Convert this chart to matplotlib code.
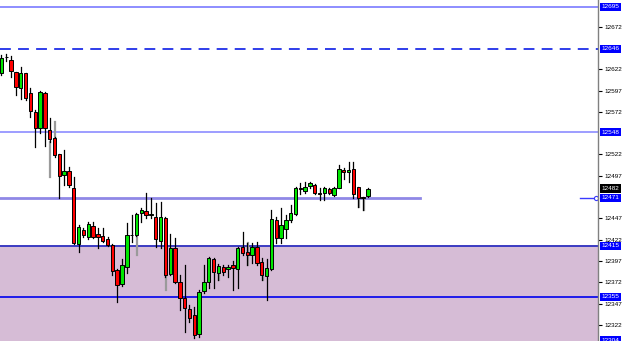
import matplotlib.pyplot as plt
import matplotlib.transforms as mtransforms
from matplotlib.patches import Rectangle

# OHLC (price units)
opens = [12618, 12636, 12633, 12619, 12600, 12617, 12594, 12572, 12553, 12594,
         12551, 12541, 12523, 12498, 12503, 12483, 12417, 12433, 12425, 12438,
         12429, 12426, 12423, 12416, 12386, 12370, 12390, 12428, 12428, 12453,
         12456, 12451, 12449, 12420, 12447, 12382, 12412, 12372, 12354, 12341,
         12334, 12311, 12362, 12372, 12399, 12383, 12390, 12388, 12392, 12388,
         12413, 12408, 12404, 12413, 12396, 12379, 12388, 12445, 12424, 12435,
         12445, 12452, 12483, 12479, 12485, 12486, 12477, 12477, 12481, 12474,
         12483, 12504, 12501, 12505, 12484, 12472, 12473]
highs = [12639, 12640, 12638, 12619, 12625, 12617, 12600, 12574, 12596, 12595,
         12565, 12543, 12523, 12527, 12507, 12496, 12439, 12436, 12443, 12443,
         12436, 12436, 12425, 12417, 12388, 12399, 12442, 12451, 12453, 12459,
         12477, 12471, 12465, 12466, 12449, 12429, 12424, 12381, 12392, 12345,
         12343, 12363, 12392, 12402, 12401, 12394, 12392, 12392, 12397, 12413,
         12431, 12418, 12418, 12419, 12401, 12399, 12457, 12449, 12459, 12451,
         12463, 12484, 12489, 12490, 12490, 12487, 12483, 12484, 12483, 12484,
         12510, 12506, 12513, 12513, 12484, 12472, 12483]
lows = [12615, 12632, 12613, 12592, 12587, 12586, 12566, 12531, 12547, 12532,
        12537, 12519, 12471, 12486, 12484, 12417, 12408, 12425, 12423, 12424,
        12412, 12419, 12415, 12381, 12349, 12368, 12383, 12419, 12426, 12443,
        12447, 12447, 12413, 12412, 12378, 12381, 12371, 12340, 12314, 12326,
        12307, 12308, 12359, 12365, 12365, 12375, 12381, 12378, 12363, 12365,
        12404, 12392, 12395, 12392, 12375, 12351, 12386, 12418, 12418, 12424,
        12443, 12451, 12476, 12477, 12483, 12476, 12469, 12469, 12476, 12473,
        12483, 12493, 12490, 12471, 12460, 12457, 12472]
closes = [12635, 12636, 12620, 12601, 12618, 12588, 12573, 12553, 12595, 12553,
          12540, 12521, 12497, 12503, 12486, 12418, 12437, 12428, 12440, 12425,
          12425, 12420, 12416, 12385, 12369, 12392, 12428, 12427, 12452, 12457,
          12451, 12452, 12423, 12449, 12381, 12412, 12372, 12354, 12342, 12330,
          12310, 12361, 12372, 12401, 12384, 12391, 12384, 12390, 12389, 12412,
          12406, 12404, 12413, 12395, 12381, 12389, 12446, 12424, 12439, 12445,
          12453, 12483, 12481, 12484, 12489, 12477, 12476, 12483, 12477, 12483,
          12505, 12501, 12504, 12476, 12471, 12471, 12482]

# grey shadow wicks
ghost_idx = [10, 11, 28, 34, 45, 51, 54, 74, 75]
ghost_low = [12496, 12521, 12404, 12363, 12375, 12392, 12375, 12460, 12457]
ghost_high = [12537, 12560, 12447, 12381, 12383, 12418, 12381, 12471, 12471]

# horizontal levels
solid_levels = [12695, 12548, 12415, 12355]
solid_colors = ['#7a7aff', '#8c8cff', '#1a1ab8', '#0000ee']
dashed_level = 12646
trend_level = 12471
zone_top = 12413
current_price = 12482

tick_vals = [12672, 12622, 12597, 12572, 12522, 12497, 12447, 12422,
             12397, 12372, 12347, 12322]
box_labels = [12695, 12646, 12548, 12471, 12415, 12355, 12304]

plt.rcParams['font.family'] = ['Liberation Sans', 'DejaVu Sans']

fig = plt.figure(figsize=(6.25, 3.41), dpi=100)
ax = fig.add_axes([0, 0, 598 / 625, 1])
ax.set_xlim(-0.31, 123.75)
ax.set_ylim(12303.2, 12703.2)

# shaded zone
ax.axhspan(12290, zone_top, color='#d6bcd6', zorder=0)

for lv, c in zip(solid_levels, solid_colors):
    ax.axhline(lv, color=c, lw=1.2, zorder=1)
ax.axhline(dashed_level, color='#1f2ee8', lw=1.3, ls=(0, (6, 4)), zorder=1)
ax.plot([-0.31, 86.8], [trend_level, trend_level], color='#8f88e6', lw=2, zorder=1)
ax.plot([120, 123.3], [trend_level, trend_level], color='#3a3aff', lw=1, zorder=1)
ax.plot([123.3], [trend_level], marker='o', ms=3, mfc='white', mec='#3a3aff',
        mew=0.8, zorder=2, clip_on=False)

for i, lo, hi in zip(ghost_idx, ghost_low, ghost_high):
    ax.plot([i + 0.15, i + 0.15], [lo, hi], color='#9a9a9a', lw=1.6, zorder=2)

w = 0.7
for i, (o, h, l, c) in enumerate(zip(opens, highs, lows, closes)):
    ax.plot([i, i], [l, h], color='black', lw=0.9, zorder=3)
    col = '#00e600' if c >= o else '#ff0000'
    bottom = min(o, c)
    height = max(abs(c - o), 0.8)
    ax.add_patch(Rectangle((i - w / 2, bottom), w, height, facecolor=col,
                           edgecolor='black', lw=0.7, zorder=4))

for s in ['top', 'left', 'bottom']:
    ax.spines[s].set_visible(False)
ax.spines['right'].set_color('#808080')
ax.spines['right'].set_linewidth(1)
ax.set_xticks([])
ax.yaxis.tick_right()
ax.set_yticks(tick_vals)
ax.set_yticklabels([str(v) for v in tick_vals])
ax.tick_params(axis='y', length=3, width=0.8, pad=1.5, labelsize=4.6, colors='black')

trans = mtransforms.blended_transform_factory(ax.transAxes, ax.transData)
for v in box_labels:
    ax.text(1.006, v, str(v), transform=trans, fontsize=4.6, color='white',
            va='center', ha='left', clip_on=False, zorder=6,
            bbox=dict(boxstyle='square,pad=0.25', fc='#0000ff', ec='none'))
ax.text(1.006, current_price, str(current_price), transform=trans, fontsize=4.6,
        color='white', va='center', ha='left', clip_on=False, zorder=6,
        bbox=dict(boxstyle='square,pad=0.25', fc='black', ec='none'))

fig.savefig('out.png', dpi=100)
